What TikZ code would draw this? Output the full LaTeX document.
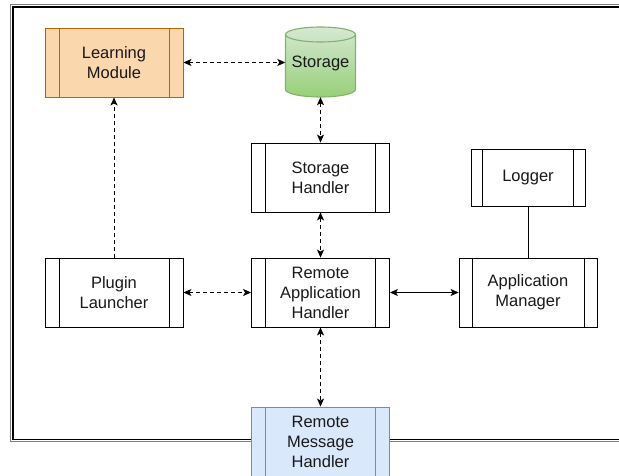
\documentclass[tikz,border=0pt]{standalone}
\usepackage{fontspec}
\setmainfont{Liberation Sans}
\usetikzlibrary{arrows.meta}
\definecolor{orfill}{HTML}{FAD7AC}
\definecolor{orline}{HTML}{B46504}
\definecolor{blfill}{HTML}{DAE8FC}
\definecolor{blline}{HTML}{6C8EBF}
\definecolor{grtop}{HTML}{D5E8D4}
\definecolor{grbot}{HTML}{97D077}
\definecolor{grline}{HTML}{82B366}
\begin{document}
\begin{tikzpicture}[x=1pt,y=-1pt,
  lbl/.style={font=\fontsize{16.5}{20}\selectfont, align=center, text=black!90},
  % process box: fill, stroke, inset of the two side bars
  proc/.style n args={3}{lbl, draw=#2, fill=#1, line width=0.9pt,
    minimum width=138pt, minimum height=69pt, inner sep=0pt,
    path picture={
      \draw[#2, line width=0.9pt]
        ([xshift=#3]path picture bounding box.north west) --
        ([xshift=#3]path picture bounding box.south west);
      \draw[#2, line width=0.9pt]
        ([xshift=-#3]path picture bounding box.north east) --
        ([xshift=-#3]path picture bounding box.south east);}},
  tip/.tip={Stealth[length=8pt,width=7pt,inset=2pt]},
  link/.style={line width=0.9pt, black},
  both/.style={link, tip-tip},
  dlink/.style={both, dash pattern=on 4pt off 3pt},
]
\useasboundingbox (0,0) rectangle (619,476);
\clip (0,0) rectangle (619,476);

% double frame
\draw[line width=1.3pt, black!50] (10.5,4.5) rectangle (640,441.5);
\draw[line width=1.3pt, black] (13,7) rectangle (640,439.5);

% storage cylinder
\shade[top color=grtop, bottom color=grbot, draw=grline, line width=1.1pt]
  (285.5,34.5) -- (285.5,89.5)
  arc[start angle=180, end angle=0, x radius=35, y radius=7.5]
  -- (355.5,34.5)
  arc[start angle=0, end angle=-180, x radius=35, y radius=7.5] -- cycle;
\draw[grline, line width=1.1pt]
  (285.5,34.5) arc[start angle=180, end angle=0, x radius=35, y radius=7.5];
\node[lbl, minimum width=70pt, minimum height=67pt, inner sep=0pt] (st) at (320.5,63.5) {Storage};

% boxes
\node[proc={orfill}{orline}{14pt}] (lm) at (114,62.5) {Learning\\Module};
\node[proc={white}{black}{14pt}] (sh) at (320.5,177.5) {Storage\\Handler};
\node[proc={white}{black}{11.5pt}, minimum width=114pt, minimum height=57pt] (lg) at (528,177.5) {Logger};
\node[proc={white}{black}{14pt}] (pl) at (114,292.5) {Plugin\\Launcher};
\node[proc={white}{black}{14pt}] (rah) at (320.5,292.5) {Remote\\Application\\Handler};
\node[proc={white}{black}{13pt}] (am) at (528,292.5) {Application\\Manager};
\node[proc={blfill}{blline}{14pt}] (rmh) at (320.5,441.5) {Remote\\Message\\Handler};

% connectors
\draw[dlink] (lm.east) -- (lm.east -| st.west);
\draw[dlink] (st.south) -- (sh.north);
\draw[dlink] (sh.south) -- (rah.north);
\draw[dlink] (pl.east) -- (rah.west);
\draw[both] (rah.east) -- (am.west);
\draw[link] (lg.south) -- (am.north);
\draw[link, dash pattern=on 4pt off 3pt, -tip] (pl.north) -- (lm.south);
\draw[dlink] (rah.south) -- (rmh.north);
\end{tikzpicture}
\end{document}
